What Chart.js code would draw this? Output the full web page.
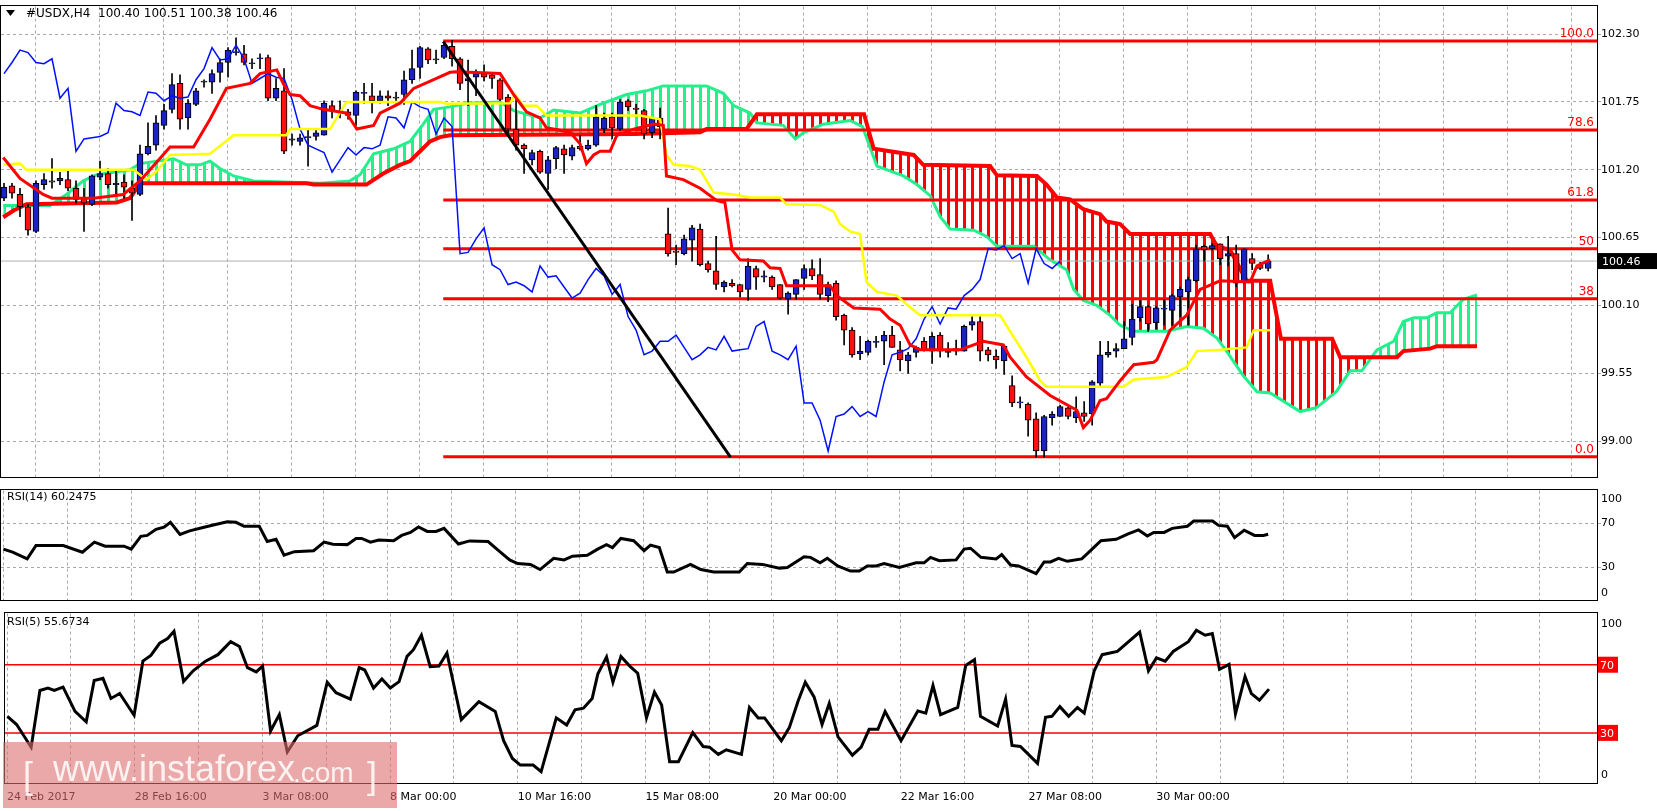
<!DOCTYPE html>
<html><head><meta charset="utf-8">
<script src="https://cdn.jsdelivr.net/npm/chart.js@4.4.0/dist/chart.umd.min.js"></script>
<style>
body{margin:0;background:#fff;width:1657px;height:811px;overflow:hidden;position:relative}
.p{position:absolute;left:0;width:1657px}
#wm{position:absolute;left:3px;top:742px;width:394px;height:66px;background:rgba(222,110,110,0.6);color:rgba(255,255,255,0.85);font-family:'Liberation Sans',sans-serif;z-index:5}
#wm span{position:absolute;bottom:20px;line-height:1;white-space:pre}
</style></head><body>
<div class="p" style="top:0;height:484px"><canvas id="c1"></canvas></div>
<div class="p" style="top:484px;height:123px"><canvas id="c2"></canvas></div>
<div class="p" style="top:607px;height:204px"><canvas id="c3"></canvas></div>
<div id="wm"><span style="left:20px;font-size:36px;bottom:14px">[</span><span style="left:50px;font-size:36px;bottom:21px">www.instaforex</span><span style="left:290px;font-size:28px;bottom:21px">.com</span><span style="left:364px;font-size:36px;bottom:14px">]</span></div>
<script>
// ---- DATA ----
const xLabels=['24 Feb 2017','28 Feb 16:00','3 Mar 08:00','8 Mar 00:00','10 Mar 16:00','15 Mar 08:00','20 Mar 00:00','22 Mar 16:00','27 Mar 08:00','30 Mar 00:00'];
const priceTicks=[99.00,99.55,100.10,100.65,101.20,101.75,102.30];
const opens=[100.97,101.07,101.00,100.90,100.70,101.08,101.11,101.11,101.12,101.05,100.97,100.92,101.14,101.17,101.08,101.10,101.05,101.00,101.33,101.40,101.56,101.69,101.90,101.62,101.73,101.91,101.91,101.99,102.07,102.15,102.14,102.06,102.10,102.11,101.78,101.84,101.44,101.43,101.46,101.47,101.48,101.72,101.68,101.67,101.64,101.82,101.80,101.76,101.80,101.78,101.81,101.93,102.03,102.18,102.09,102.11,102.20,102.10,101.92,101.95,101.98,101.97,101.93,101.79,101.53,101.40,101.28,101.35,101.17,101.29,101.37,101.31,101.39,101.37,101.40,101.53,101.63,101.53,101.76,101.70,101.68,101.50,101.62,100.68,100.54,100.52,100.63,100.72,100.44,100.38,100.25,100.28,100.27,100.23,100.40,100.33,100.33,100.27,100.15,100.19,100.32,100.40,100.35,100.18,100.28,100.02,99.90,99.71,99.72,99.80,99.81,99.86,99.74,99.65,99.72,99.81,99.73,99.86,99.72,99.73,99.73,99.94,99.97,99.74,99.69,99.65,99.45,99.31,99.30,99.18,98.92,99.19,99.20,99.27,99.19,99.23,99.22,99.47,99.70,99.73,99.75,99.84,100.00,100.09,99.96,100.07,100.06,100.17,100.21,100.30,100.58,100.56,100.60,100.50,100.52,100.29,100.48,100.43,100.40];
const highs=[101.09,101.09,101.05,100.92,101.11,101.17,101.29,101.18,101.19,101.11,101.05,101.16,101.27,101.21,101.19,101.16,101.11,101.40,101.58,101.64,101.73,101.98,101.97,101.77,101.86,101.93,102.01,102.10,102.19,102.27,102.21,102.10,102.14,102.13,101.94,102.02,101.49,101.49,101.52,101.53,101.76,101.76,101.76,101.69,101.84,101.90,101.90,101.84,101.84,101.83,102.00,102.17,102.20,102.19,102.17,102.23,102.25,102.11,102.09,102.01,102.05,101.98,101.94,101.81,101.77,101.41,101.36,101.36,101.31,101.39,101.40,101.40,101.48,101.44,101.72,101.66,101.66,101.77,101.77,101.73,101.69,101.62,101.70,100.89,100.59,100.67,100.75,100.76,100.46,100.66,100.30,100.31,100.27,100.48,100.42,100.38,100.34,100.27,100.21,100.31,100.43,100.47,100.48,100.29,100.30,100.03,99.92,99.85,99.82,99.85,99.89,99.93,99.81,99.72,99.77,99.84,99.88,99.88,99.80,99.82,99.94,100.01,100.01,99.76,99.74,99.77,99.53,99.36,99.31,99.23,99.21,99.24,99.29,99.28,99.36,99.32,99.49,99.81,99.81,99.79,99.97,100.11,100.14,100.10,100.09,100.15,100.19,100.25,100.33,100.59,100.59,100.60,100.60,100.66,100.59,100.56,100.52,100.45,100.51];
const lows=[100.95,100.97,100.82,100.67,100.69,101.04,101.05,101.08,101.03,100.93,100.70,100.91,101.12,101.05,100.99,100.97,100.79,100.99,101.32,101.36,101.53,101.66,101.53,101.53,101.72,101.87,101.82,101.91,101.95,102.13,102.05,102.02,102.02,101.76,101.76,101.33,101.40,101.40,101.23,101.44,101.48,101.62,101.62,101.61,101.56,101.74,101.66,101.74,101.72,101.74,101.73,101.90,101.94,102.06,102.06,102.10,102.04,101.85,101.72,101.80,101.92,101.86,101.76,101.50,101.36,101.17,101.24,101.17,101.04,101.21,101.17,101.28,101.36,101.36,101.39,101.50,101.45,101.52,101.68,101.65,101.45,101.46,101.45,100.50,100.43,100.51,100.46,100.42,100.37,100.23,100.21,100.25,100.17,100.14,100.23,100.29,100.23,100.15,100.03,100.15,100.23,100.31,100.15,100.13,99.98,99.78,99.68,99.66,99.70,99.76,99.62,99.76,99.57,99.55,99.68,99.73,99.63,99.68,99.68,99.70,99.73,99.90,99.65,99.65,99.59,99.54,99.28,99.27,99.04,98.87,98.87,99.13,99.20,99.18,99.15,99.16,99.13,99.44,99.68,99.68,99.75,99.78,99.97,99.89,99.91,99.94,99.94,100.01,99.94,100.29,100.46,100.55,100.43,100.42,100.25,100.28,100.39,100.39,100.38];
const closes=[101.06,101.01,100.90,100.71,101.09,101.12,101.10,101.13,101.05,100.96,100.93,101.15,101.17,101.08,101.09,101.06,101.01,101.33,101.39,101.58,101.68,101.89,101.61,101.74,101.84,101.92,101.98,102.07,102.17,102.15,102.07,102.06,102.10,101.78,101.86,101.35,101.45,101.46,101.47,101.50,101.74,101.68,101.67,101.64,101.83,101.82,101.76,101.80,101.78,101.79,101.93,102.02,102.19,102.09,102.10,102.21,102.10,101.90,101.94,101.98,101.95,101.94,101.77,101.53,101.40,101.37,101.34,101.18,101.28,101.38,101.32,101.38,101.37,101.40,101.63,101.62,101.54,101.75,101.71,101.69,101.49,101.62,101.55,100.52,100.53,100.64,100.73,100.43,100.39,100.27,100.29,100.26,100.21,100.42,100.33,100.34,100.25,100.16,100.20,100.31,100.40,100.34,100.19,100.27,100.01,99.90,99.70,99.73,99.81,99.81,99.86,99.76,99.66,99.70,99.76,99.74,99.85,99.73,99.74,99.75,99.93,99.97,99.73,99.70,99.66,99.77,99.31,99.31,99.17,98.92,99.20,99.22,99.28,99.20,99.24,99.20,99.48,99.70,99.72,99.75,99.83,99.99,100.09,99.95,100.08,100.07,100.18,100.23,100.31,100.56,100.55,100.585,100.48,100.52,100.28,100.56,100.44,100.40,100.46];
const tenkan=[[-0.1,101.30],[2,101.13],[4.9,101.00],[6,100.97],[11.2,100.97],[14.9,101.00],[17,101.11],[20.75,101.385],[23.7,101.385],[25.75,101.61],[27.8,101.86],[30.75,101.90],[32,101.98],[34.1,102.01],[34.9,101.90],[35.75,101.81],[37,101.80],[38.25,101.72],[39.9,101.69],[42.8,101.66],[44.1,101.53],[46.2,101.56],[47,101.66],[49.5,101.74],[51.2,101.86],[53.7,101.93],[55.75,101.99],[56.6,101.995],[62,101.98],[63.7,101.81],[65.3,101.67],[67,101.62],[67.8,101.54],[70.75,101.505],[72,101.41],[72.8,101.25],[73.7,101.32],[74.5,101.35],[75.75,101.35],[76.6,101.48],[78.7,101.53],[81.2,101.57],[82.4,101.56],[82.8,101.15],[84.9,101.12],[87,101.05],[89.1,100.95],[90.1,100.935],[91,100.55],[92,100.47],[94.9,100.46],[95.75,100.405],[97,100.40],[97.8,100.26],[103.25,100.26],[104.1,100.18],[106.2,100.08],[109.5,100.07],[110.75,99.99],[112,99.94],[113.25,99.78],[114.5,99.74],[119.5,99.74],[122.4,99.81],[124.9,99.78],[125.75,99.68],[127.8,99.52],[130.75,99.37],[134.1,99.25],[134.9,99.11],[135.75,99.17],[137,99.33],[137.8,99.345],[139.5,99.49],[141.2,99.62],[143.7,99.64],[144.1,99.66],[145.75,99.90],[147.8,100.02],[149.5,100.23],[152,100.30],[155.75,100.29],[156.6,100.42],[158.25,100.47]];
const kijun=[[-0.1,101.24],[2,101.25],[2.8,101.20],[16.2,101.20],[17.8,101.12],[19.1,101.19],[20.75,101.32],[25.75,101.33],[28.7,101.48],[35.3,101.48],[35.75,101.53],[40.75,101.53],[42.8,101.75],[54.5,101.75],[55.3,101.735],[63.25,101.74],[63.9,101.81],[64.9,101.72],[66.6,101.72],[67.8,101.64],[79.5,101.64],[82,101.61],[82.8,101.32],[83.7,101.24],[85.75,101.23],[87,101.20],[88.7,101.015],[91.2,101.00],[93.25,100.975],[97,100.975],[97.8,100.92],[102,100.915],[103.7,100.86],[104.5,100.76],[105.75,100.70],[107,100.68],[107.8,100.29],[109.1,100.21],[111.6,100.18],[112.8,100.11],[114.5,100.02],[124.5,100.02],[125.75,99.89],[127.8,99.68],[129.5,99.49],[130.3,99.44],[139.9,99.44],[141.2,99.50],[145.3,99.52],[147.8,99.60],[149.1,99.73],[152,99.74],[155.3,99.76],[156.2,99.90],[158.25,99.90]];
const spanA=[[-0.1,100.91],[5.75,100.91],[7.8,101.00],[9.9,101.11],[11.6,101.16],[15.75,101.20],[17,101.25],[21.2,101.29],[22.8,101.24],[24.5,101.24],[25.75,101.27],[27,101.21],[28.7,101.15],[31.2,101.11],[39.5,101.09],[43.25,101.11],[44.5,101.16],[46.2,101.33],[48.7,101.37],[50.75,101.43],[52.4,101.57],[53.7,101.69],[55.75,101.71],[57.8,101.74],[62,101.75],[63.7,101.68],[67,101.62],[68.7,101.685],[72,101.66],[74.5,101.73],[77.8,101.81],[80.3,101.84],[82.4,101.88],[87.8,101.88],[89.9,101.82],[91.2,101.72],[93.25,101.66],[94.1,101.58],[97.4,101.56],[98.9,101.45],[99.9,101.50],[102.4,101.57],[105.75,101.60],[107.3,101.55],[109.1,101.23],[112.4,101.15],[114.1,101.08],[115.75,100.99],[117,100.82],[118.25,100.72],[121.2,100.71],[122.8,100.66],[124.1,100.58],[128.7,100.58],[130.75,100.47],[132.8,100.39],[133.7,100.23],[134.9,100.14],[136.6,100.10],[138.25,100.02],[139.5,99.94],[141.2,99.89],[145.3,99.89],[147.8,99.93],[149.9,99.915],[151.6,99.835],[152.8,99.73],[154.9,99.53],[156.6,99.40],[158.25,99.39],[162,99.24],[164,99.27],[166.5,99.40],[168.25,99.57],[169.7,99.57],[171.6,99.74],[173.7,99.81],[174.9,99.97],[176.2,100.00],[177.8,100.00],[179.1,100.04],[180.75,100.04],[182.4,100.15],[184.1,100.185]];
const spanB=[[-0.1,100.815],[1.2,100.87],[2.8,100.92],[14.1,100.935],[15.75,100.97],[17,101.09],[37.8,101.09],[38.7,101.08],[45.3,101.08],[47.4,101.17],[49.5,101.24],[50.75,101.27],[52,101.35],[53.25,101.43],[54.5,101.465],[55.75,101.48],[78.7,101.49],[87,101.505],[87.8,101.53],[92.8,101.53],[94.1,101.65],[107.5,101.65],[108.7,101.37],[113.7,101.32],[114.9,101.24],[123.25,101.23],[124.1,101.155],[129.1,101.15],[130.3,101.08],[131.6,100.975],[133.25,100.96],[134.9,100.88],[137,100.84],[137.8,100.78],[139.5,100.76],[140.75,100.68],[150.75,100.68],[151.6,100.58],[153.25,100.55],[155.3,100.30],[158.25,100.30],[159.6,99.83],[166,99.83],[167,99.68],[174.1,99.68],[174.9,99.73],[178.25,99.75],[179.1,99.77],[184.1,99.77]];
const fibNames=['100.0','78.6','61.8','50','38','0.0'];
const fibPrices=[102.244,101.523,100.956,100.559,100.154,98.873];
const fibStart=54.9;
const trendLine=[[54.9,102.24],[90.8,98.87]];
const lastPrice=100.46;
const rsi14=[[-0.08,46.7],[1.08,43.9],[2.9,37.8],[4,50],[7.4,50],[9.8,43.9],[11.3,53.1],[12.65,49.4],[15,49.4],[15.9,46.7],[17.1,58.3],[17.9,59.2],[19,64.7],[20,66.7],[20.8,71.1],[22,60],[23.2,63.3],[24.75,66.1],[26.3,68.9],[27.9,71.7],[29,71.1],[30,67.5],[31.9,67.5],[32.9,53.6],[34,55.6],[35,41.1],[36.3,44.4],[38.7,45.3],[40,53.1],[41.1,51.1],[42.9,50.8],[44,56.4],[44.7,56.4],[45.8,53.1],[46.85,55],[48.7,54.4],[49.7,59.2],[50.8,61.9],[51.8,66.9],[52.9,62.8],[54,62.8],[55,65.6],[56.8,51.4],[58.2,54.2],[60.5,53.6],[61.6,46.7],[63.2,36.9],[64.2,33.6],[65.8,32.8],[67,28.1],[68.7,38.3],[70,36.9],[71.05,40.3],[72.9,41.1],[74.2,46.7],[75.3,50.8],[76.05,48.1],[77.1,56.4],[78.7,54.4],[80,45.3],[80.8,50.3],[81.9,48.1],[82.9,25.8],[83.7,25.8],[85.8,32.8],[87.1,28.1],[88.7,25.8],[91.9,25.8],[92.9,33.6],[94.8,32.8],[96.9,29.4],[97.9,30],[100,39.7],[100.8,39.2],[102,34.2],[102.9,38.3],[104.2,31.4],[105.8,26.7],[106.9,26.7],[107.9,31.4],[109,31.4],[110,33.6],[111.9,30],[114,34.2],[115,34.2],[115.8,39.2],[116.9,36.1],[119,36.9],[120,46.7],[120.8,47.5],[122.1,39.2],[124,37.8],[124.7,41.7],[125.8,32.2],[126.8,31.4],[129,24.4],[130,35],[130.8,35],[131.8,38.3],[132.9,35.6],[134.7,37.8],[135.8,45.3],[137.1,54.4],[139,55.6],[140.5,60.6],[141.8,64.2],[142.9,58.6],[143.7,61.9],[145,61.9],[146,65.6],[147.9,67.5],[148.7,72.2],[151.05,72.2],[151.8,68.3],[152.9,67.5],[153.8,57.2],[155,63.9],[156.3,59.2],[157.4,59.2],[158,60.25]];
const rsi5=[[-0.08,39.7],[1.08,34.9],[2.9,21.6],[4,54.9],[5,56.3],[5.8,54.9],[6.9,56.9],[8.4,42.6],[9.8,36.5],[10.8,60.7],[11.9,62],[12.9,50.2],[14,53.1],[15.8,40.3],[16.9,72.1],[17.9,75.5],[19,82.6],[20,85.4],[20.8,89.6],[22,60.1],[23.2,66.4],[24.75,72.1],[26.3,75.9],[27.9,83.5],[29,80.7],[30,68.3],[31.1,65.8],[31.9,69.2],[32.9,31.1],[34,40.7],[35,18.8],[36.3,28.3],[38.7,34.4],[40,59.7],[41.1,53.6],[42.9,49.8],[44,68.3],[44.7,66.9],[45.8,56.3],[46.85,61.6],[47.9,56.3],[49,60.1],[50,74.9],[50.8,78.8],[51.8,87.3],[52.9,68.9],[54,69.2],[55,76.9],[56.8,37.8],[59,48.3],[61.05,42.6],[62.1,25.4],[63.2,15],[64.2,11.1],[65.8,11.1],[66.8,7.3],[68.7,38.8],[70,34.6],[71.05,43.5],[72.1,44.5],[73.2,50.2],[73.9,64.5],[75,74.6],[75.8,59.7],[76.8,74.9],[77.9,69.2],[78.9,65],[80,38.8],[81,54],[81.9,46.4],[82.9,13.1],[84,13.1],[85.8,30.2],[87.1,22],[87.9,21.6],[89,17.4],[90,20.1],[91.9,17.4],[92.9,44.9],[94,38.8],[94.8,38.8],[96.9,25.4],[97.9,33.1],[99,48.7],[99.9,59.7],[101,51.1],[102,34.9],[102.9,47.3],[104,27.7],[105.8,16.9],[106.9,21.6],[107.9,32.1],[109,32.1],[109.9,42.6],[111.9,25.4],[114,42.9],[115,41.6],[115.9,57.8],[116.85,40.7],[119,44.9],[120,69.6],[121.1,73],[121.85,39.7],[124,34],[125,49.8],[125.8,22.6],[126.85,22],[129,12.1],[130,39.1],[130.8,39.7],[131.8,45.4],[132.9,39.7],[134,44.9],[134.85,41.6],[136.1,66.4],[137.1,75.9],[139,77.8],[141.8,89.2],[142.9,66.4],[143.9,74],[145,72.1],[146,77.8],[147.9,83.5],[148.9,90.2],[150,87.3],[150.9,88.3],[151.8,67.3],[153,70.2],[153.8,41.2],[155,63.1],[155.8,53],[156.8,49.2],[158,55.67]];
const rsiLevels=[30,70];

// ---- RENDER ----
Chart.defaults.font.family='DejaVu Sans';
Chart.defaults.font.size=11;
Chart.defaults.color='#000';
const XMIN=-0.375,XMAX=199.1;
const pts=a=>a.map(([x,y])=>({x,y}));
const gridC='#a8a8a8';
function xScale(showLabels){
  return {type:'linear',min:XMIN,max:XMAX,offset:false,
    afterBuildTicks:s=>{s.ticks=[];for(let k=0;k<=24;k++)s.ticks.push({value:8*k-0.125});},
    afterFit:s=>{s.height=showLabels?27:0;},
    grid:{color:gridC,drawTicks:false},border:{display:false,dash:[3,3]},
    ticks:{display:showLabels,autoSkip:false,maxRotation:0,align:'start',padding:7,
      callback:(v,i)=>i%2===0?(xLabels[i/2]||''):''}};
}
function mkPattern(col){
  const c=document.createElement('canvas');c.width=8;c.height=4;
  const g=c.getContext('2d');g.fillStyle=col;g.fillRect(3,0,3,4);
  return g.createPattern(c,'repeat');
}
const greenPat=mkPattern('#22f08c'),redPat=mkPattern('#ff0000');
const boxPlugin={id:'box',afterDraw(ch){const a=ch.chartArea,g=ch.ctx;g.save();g.strokeStyle='#000';g.lineWidth=1;
  g.strokeRect(Math.floor(a.left)-0.5,Math.floor(a.top)-0.5,Math.round(a.right-a.left)+1,Math.round(a.bottom-a.top)+1);g.restore();}};
const lineDs=(data,color,w,order,extra)=>Object.assign({type:'line',data,borderColor:color,borderWidth:w,pointRadius:0,tension:0,fill:false,order},extra||{});

const bull=[],bear=[];
opens.forEach((o,i)=>{const d={x:i,y:[o,closes[i]]};(closes[i]>=o?bull:bear).push(d);});
const wicks=opens.map((o,i)=>({x:i,y:[lows[i],highs[i]]}));
const ds=[];
ds.push(lineDs(pts(spanA),'#22f08c',3,20,{fill:{target:1,above:greenPat,below:redPat}}));
ds.push(lineDs(pts(spanB),'#ff0000',4,19));
fibPrices.forEach(p=>ds.push(lineDs([{x:fibStart,y:p},{x:XMAX,y:p}],'#ff0000',3,15)));
ds.push(lineDs([{x:XMIN,y:lastPrice},{x:XMAX,y:lastPrice}],'#b0b0b0',1,16));
ds.push({type:'bar',data:wicks,backgroundColor:'#000',borderWidth:0,barThickness:1,grouped:false,order:10});
ds.push({type:'bar',data:bull,backgroundColor:'#1a22c8',borderColor:'#000',borderWidth:1,barThickness:6,minBarLength:1,grouped:false,borderSkipped:false,order:9});
ds.push({type:'bar',data:bear,backgroundColor:'#ff1010',borderColor:'#000',borderWidth:1,barThickness:6,minBarLength:1,grouped:false,borderSkipped:false,order:9});
ds.push(lineDs(closes.slice(26).map((c,j)=>({x:j,y:c})),'#0010ff',1.5,5));
ds.push(lineDs(pts(kijun),'#ffff00',2.5,4));
ds.push(lineDs(pts(tenkan),'#ff0000',3,3));
ds.push(lineDs(pts(trendLine),'#000',3,2));

const mainDeco={id:'mainDeco',afterDraw(ch){const g=ch.ctx,y=ch.scales.y;g.save();
  g.font='12px DejaVu Sans';g.fillStyle='#ff0000';g.textAlign='right';g.textBaseline='bottom';
  fibPrices.forEach((p,k)=>g.fillText(fibNames[k],1594,y.getPixelForValue(p)-1));
  const py=y.getPixelForValue(lastPrice);g.fillStyle='#000';g.fillRect(1598,py-8,59,16);
  g.fillStyle='#fff';g.textAlign='left';g.textBaseline='middle';g.font='11px DejaVu Sans';g.fillText(lastPrice.toFixed(2),1602,py+1);
  g.fillStyle='#000';g.beginPath();g.moveTo(6,10);g.lineTo(15,10);g.lineTo(10.5,16);g.closePath();g.fill();
  g.font='12px DejaVu Sans';g.fillText('#USDX,H4  100.40 100.51 100.38 100.46',26,14);
  g.restore();}};

new Chart(document.getElementById('c1'),{type:'line',data:{datasets:ds},
 options:{responsive:true,maintainAspectRatio:false,animation:false,devicePixelRatio:1,
  layout:{padding:{left:1,right:0,top:2,bottom:2}},
  plugins:{legend:{display:false},tooltip:{enabled:false}},
  scales:{x:xScale(false),
   y:{position:'right',min:98.706,max:102.523,afterFit:s=>{s.width=60;},
    afterBuildTicks:s=>{s.ticks=priceTicks.map(v=>({value:v}));},
    grid:{color:gridC,tickLength:4},border:{display:false,dash:[3,3]},
    ticks:{padding:0,callback:v=>v.toFixed(2)}}}},
 plugins:[boxPlugin,mainDeco]});

const rsi14Deco={id:'r14',afterDraw(ch){const g=ch.ctx;g.save();g.fillStyle='#000';g.font='11px DejaVu Sans';g.textBaseline='middle';g.fillText('RSI(14) 60.2475',7,13);g.restore();}};
new Chart(document.getElementById('c2'),{type:'line',data:{datasets:[lineDs(pts(rsi14),'#000',3,1)]},
 options:{responsive:true,maintainAspectRatio:false,animation:false,devicePixelRatio:1,
  layout:{padding:{left:1,right:0,top:2,bottom:1}},
  plugins:{legend:{display:false},tooltip:{enabled:false}},
  scales:{x:xScale(false),
   y:{position:'right',min:0,max:100,afterFit:s=>{s.width=60;},
    afterBuildTicks:s=>{s.ticks=[6.7,30,70,92.5].map(v=>({value:v}));},
    grid:{color:c=>(c.tick&&(c.tick.value===30||c.tick.value===70))?gridC:'rgba(0,0,0,0)',tickLength:4},border:{display:false,dash:[3,3]},
    ticks:{padding:0,callback:v=>v<10?'0':v>90?'100':String(v)}}}},
 plugins:[boxPlugin,rsi14Deco]});

const rsi5Deco={id:'r5',afterDraw(ch){const g=ch.ctx,y=ch.scales.y;g.save();g.font='11px DejaVu Sans';g.textBaseline='middle';
  g.fillStyle='#000';g.fillText('RSI(5) 55.6734',7,15);
  rsiLevels.forEach(l=>{const py=y.getPixelForValue(l);g.fillStyle='#ff0000';g.fillRect(1598,py-8,20,16);g.fillStyle='#fff';g.fillText(String(l),1600,py+1);});
  g.restore();}};
const r5ds=[lineDs(pts(rsi5),'#000',3,1)];
rsiLevels.forEach(l=>r5ds.push(lineDs([{x:XMIN,y:l},{x:XMAX,y:l}],'#ff0000',1.5,2)));
new Chart(document.getElementById('c3'),{type:'line',data:{datasets:r5ds},
 options:{responsive:true,maintainAspectRatio:false,animation:false,devicePixelRatio:1,
  layout:{padding:{left:1,right:0,top:2,bottom:0}},
  plugins:{legend:{display:false},tooltip:{enabled:false}},
  scales:{x:xScale(true),
   y:{position:'right',min:0,max:100,afterFit:s=>{s.width=60;},
    afterBuildTicks:s=>{s.ticks=[5.4,94].map(v=>({value:v}));},
    grid:{color:'rgba(0,0,0,0)',tickLength:4},border:{display:false},
    ticks:{padding:0,callback:v=>v<10?'0':'100'}}}},
 plugins:[boxPlugin,rsi5Deco]});
</script></body></html>
